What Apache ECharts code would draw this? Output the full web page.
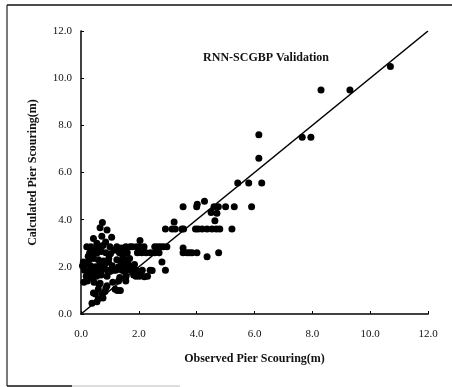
<!DOCTYPE html>
<html>
<head>
<meta charset="utf-8">
<script src="https://cdn.jsdelivr.net/npm/echarts@6/dist/echarts.min.js"></script>
<style>
  html, body { margin: 0; padding: 0; background: #fff; }
  #chart { width: 452px; height: 387px; }
</style>
</head>
<body>
<div id="chart"></div>
<script>
// RNN-SCGBP validation scatter: observed vs calculated pier scouring (m)

const tickLabels = ['0.0', '2.0', '4.0', '6.0', '8.0', '10.0', '12.0'];

// observed (x) and calculated (y)
const observed = [
  // upper part
  10.7, 8.3, 9.3, 7.65, 7.95, 6.15, 6.15, 6.25, 5.8, 5.42,
  3.53, 4.0, 4.02, 4.6, 4.75, 5.0, 5.3, 5.9, 4.27, 4.5, 4.7, 4.63, 3.22,
  2.92, 3.15, 3.26, 3.49, 3.55, 3.96, 4.05, 4.19, 4.36, 4.53, 4.68, 4.8, 5.22,
  3.53, 3.53, 3.67, 3.76, 3.84, 4.01, 4.76, 4.36,
  // band around 2-3 m
  1.78, 1.92, 2.02, 2.18, 2.55, 2.65, 2.75, 2.85, 2.97,
  1.95, 2.1, 2.25, 2.4, 2.55, 2.7,
  2.04, 2.8, 2.92, 2.46, 2.19, 2.3, 2.39,
  // dense cluster below 2 m
  0.12, 0.22, 0.3, 0.42, 0.5, 0.58, 0.7, 0.78, 0.92, 1.0, 1.12, 1.2, 1.28, 1.42, 1.5, 1.6, 1.72, 1.8, 1.9, 2.0, 2.12,
  0.05, 0.16, 0.33, 0.5, 0.63, 0.82, 1.08, 1.3, 1.46, 1.58, 1.77,
  0.28, 0.44, 0.6, 0.77, 0.96, 1.24, 1.38, 1.52, 1.68,
  0.3, 0.45, 0.56, 0.7, 0.86, 1.02, 1.33, 1.48, 1.6,
  0.2, 0.34, 0.5, 0.62, 0.76, 1.0, 1.24, 1.4, 1.55, 1.7,
  0.18, 0.36, 0.54, 0.7, 0.9, 1.34, 1.56, 1.82, 2.02,
  0.1, 0.22, 0.45, 0.66, 1.1, 1.3, 0.9, 1.55,
  0.6, 0.86, 1.18, 1.36, 1.26,
  0.5, 0.74, 0.43, 0.83,
  0.6, 0.76, 0.38, 0.55,
  0.43, 0.66, 0.74, 1.06, 0.72, 0.9, 0.55, 0.85, 1.85, 2.05,
  0.25, 0.48, 0.95, 1.15, 1.45, 0.62, 0.38, 1.62, 1.9, 0.08
];
const calculated = [
  10.5, 9.5, 9.5, 7.5, 7.5, 7.6, 6.6, 5.55, 5.55, 5.55,
  4.55, 4.55, 4.65, 4.55, 4.55, 4.55, 4.55, 4.55, 4.78, 4.3, 4.27, 3.95, 3.9,
  3.6, 3.6, 3.6, 3.6, 3.6, 3.6, 3.6, 3.6, 3.6, 3.6, 3.6, 3.6, 3.6,
  2.8, 2.6, 2.6, 2.6, 2.6, 2.6, 2.6, 2.43,
  2.85, 2.85, 2.85, 2.85, 2.85, 2.85, 2.85, 2.85, 2.85,
  2.6, 2.6, 2.6, 2.6, 2.6, 2.6,
  3.12, 2.2, 1.86, 1.84, 1.58, 1.6, 1.86,
  1.85, 1.8, 1.85, 1.9, 1.85, 1.8, 1.85, 1.9, 1.85, 1.8, 1.85, 1.85, 1.9, 1.85, 1.8, 1.85, 1.85, 1.9, 1.85, 1.8, 1.85,
  2.05, 2.1, 2.05, 2.0, 2.05, 2.1, 2.05, 2.0, 2.1, 2.05, 2.0,
  2.3, 2.35, 2.3, 2.25, 2.35, 2.3, 2.25, 2.3, 2.35,
  2.6, 2.55, 2.6, 2.65, 2.6, 2.55, 2.6, 2.65, 2.6,
  2.85, 2.85, 2.8, 2.85, 2.9, 2.85, 2.85, 2.8, 2.85, 2.85,
  1.6, 1.55, 1.6, 1.65, 1.6, 1.55, 1.6, 1.65, 1.6,
  1.35, 1.4, 1.35, 1.3, 1.35, 1.4, 1.2, 1.4,
  1.05, 1.1, 1.05, 1.0, 1.0,
  0.85, 0.85, 0.89, 0.95,
  0.65, 0.68, 0.46, 0.52,
  3.2, 3.66, 3.88, 3.25, 3.3, 3.56, 3.0, 3.05, 2.1, 1.75,
  2.45, 2.7, 2.2, 2.7, 2.45, 1.25, 1.75, 2.15, 1.6, 2.2
];

// 1:1 reference line
const lineX = [0, 12];
const lineY = [0, 12];

const points = observed.map((x, i) => [x, calculated[i]]);
const lineData = lineX.map((x, i) => [x, lineY[i]]);

const serif = '"Liberation Serif", "DejaVu Serif", serif';

const chart = echarts.init(document.getElementById('chart'));

const baseAxis = {
  type: 'value',
  min: 0,
  max: 12,
  interval: 2,
  splitLine: { show: false }
};

const option = {
  animation: false,
  backgroundColor: '#fff',
  title: {
    text: 'RNN-SCGBP Validation',
    left: 261,
    top: 47,
    textAlign: 'center',
    textStyle: { fontFamily: serif, fontWeight: 'bold', fontSize: 12, color: '#111' }
  },
  grid: { left: 81, right: 24, top: 31, bottom: 73 },
  xAxis: [
    Object.assign({}, baseAxis, {
      position: 'bottom',
      name: 'Observed Pier Scouring(m)',
      nameLocation: 'middle',
      nameGap: 39,
      nameTextStyle: { fontFamily: serif, fontWeight: 'bold', fontSize: 12, color: '#111' },
      axisLine: { lineStyle: { color: '#000', width: 1.5 } },
      axisTick: { inside: true, length: 3, lineStyle: { color: '#000' } },
      axisLabel: {
        margin: 15,
        fontFamily: serif,
        fontSize: 11,
        color: '#111',
        formatter: (v) => tickLabels[Math.round(v / 2)]
      }
    }),
    Object.assign({}, baseAxis, {
      position: 'top',
      axisLine: { lineStyle: { color: '#444', width: 1, type: 'dotted' } },
      axisTick: { show: false },
      axisLabel: { show: false }
    })
  ],
  yAxis: [
    Object.assign({}, baseAxis, {
      position: 'left',
      name: 'Calculated Pier Scouring(m)',
      nameLocation: 'middle',
      nameGap: 42,
      nameTextStyle: { fontFamily: serif, fontWeight: 'bold', fontSize: 12, color: '#111' },
      axisLine: { lineStyle: { color: '#000', width: 1.5 } },
      axisTick: { inside: true, length: 3, lineStyle: { color: '#000' } },
      axisLabel: {
        margin: 9,
        fontFamily: serif,
        fontSize: 11,
        color: '#111',
        formatter: (v) => tickLabels[Math.round(v / 2)]
      }
    }),
    Object.assign({}, baseAxis, {
      position: 'right',
      axisLine: { lineStyle: { color: '#444', width: 1, type: 'dotted' } },
      axisTick: { show: false },
      axisLabel: { show: false }
    })
  ],
  // scanned page frame
  graphic: [
    { type: 'line', shape: { x1: 7, y1: 5, x2: 452, y2: 5 }, style: { stroke: '#111', lineWidth: 1.5 } },
    { type: 'line', shape: { x1: 7, y1: 5, x2: 7, y2: 386 }, style: { stroke: '#222', lineWidth: 1.2 } },
    { type: 'line', shape: { x1: 7, y1: 386, x2: 72, y2: 386 }, style: { stroke: '#111', lineWidth: 1.5 } },
    { type: 'line', shape: { x1: 72, y1: 386, x2: 180, y2: 386 }, style: { stroke: '#bbb', lineWidth: 1 } }
  ],
  series: [
    {
      type: 'line',
      data: lineData,
      symbol: 'none',
      lineStyle: { color: '#000', width: 1.6 },
      z: 3
    },
    {
      type: 'scatter',
      data: points,
      symbol: 'circle',
      symbolSize: 7,
      itemStyle: { color: '#000', opacity: 1 },
      z: 4
    }
  ]
};

chart.setOption(option);
</script>
</body>
</html>
